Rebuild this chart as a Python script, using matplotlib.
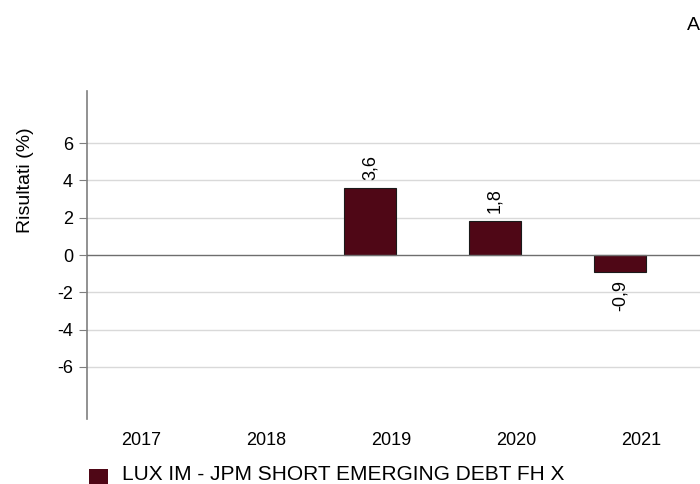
import matplotlib
matplotlib.use("Agg")
import matplotlib.pyplot as plt
from matplotlib.patches import Rectangle

years = ["2017", "2018", "2019", "2020", "2021"]
values = [None, None, 3.6, 1.8, -0.9]
value_labels = ["", "", "3,6", "1,8", "-0,9"]
series_name = "LUX IM - JPM SHORT EMERGING DEBT FH X"
y_ticks = [-6, -4, -2, 0, 2, 4, 6]

W, H = 700, 484
fig = plt.figure(figsize=(7.0, 4.84), dpi=100)
plt.rcParams['font.family'] = ['Liberation Sans', 'DejaVu Sans']

ax_l, ax_r, ax_t, ax_b = 87, 700, 91, 419
ax = fig.add_axes([ax_l / W, 1 - ax_b / H, (ax_r - ax_l) / W, (ax_b - ax_t) / H])

bar_color = "#4F0716"
xs = list(range(len(years)))
px_per_cat = 125.0
first_center_px = 120.0
x0 = -(first_center_px - ax_l) / px_per_cat
x1 = x0 + (ax_r - ax_l) / px_per_cat
ax.set_xlim(x0, x1)
ax.set_ylim(-8.8, 8.8)

for y in y_ticks:
    if y != 0:
        ax.axhline(y, color="#D9D9D9", lw=1.0, zorder=0)
ax.axhline(0, color="#6E6E6E", lw=1.0, zorder=3)

for x, v, lab in zip(xs, values, value_labels):
    if v is None:
        continue
    ax.bar(x, v, width=0.41, color=bar_color, edgecolor="#1a1a1a", linewidth=0.8, zorder=2)
    if v >= 0:
        ax.annotate(lab, (x, v), xytext=(0, 6), textcoords="offset points",
                    rotation=90, ha="center", va="bottom", fontsize=13)
    else:
        ax.annotate(lab, (x, v), xytext=(0, -6), textcoords="offset points",
                    rotation=90, ha="center", va="top", fontsize=13)

for s in ["top", "right", "bottom"]:
    ax.spines[s].set_visible(False)
ax.spines["left"].set_color("#7F7F7F")
ax.spines["left"].set_linewidth(1.2)
ax.set_yticks(y_ticks)
ax.set_yticklabels([str(t) for t in y_ticks], fontsize=13)
ax.tick_params(axis="y", length=6, color="#7F7F7F", pad=4)
ax.set_xticks([])

# category labels (offset right of bar centers as in reference)
for x, yr in zip(xs, years):
    ax.text(x + 21 / px_per_cat, -8.8 - 22 / 18.67, yr, ha="center", va="center",
            fontsize=13, clip_on=False)

fig.text(25 / W, 1 - 180 / H, "Risultati (%)", rotation=90, ha="center", va="center", fontsize=14)

# legend
fig.patches.append(Rectangle((89 / W, 1 - 485 / H), 19 / W, 16 / H, transform=fig.transFigure,
                             facecolor=bar_color, edgecolor="none"))
fig.text(122 / W, 1 - 475 / H, series_name, ha="left", va="center", fontsize=15)

fig.text(693 / W, 1 - 25 / H, "A", ha="center", va="center", fontsize=14)

fig.savefig("out.png", dpi=100)
